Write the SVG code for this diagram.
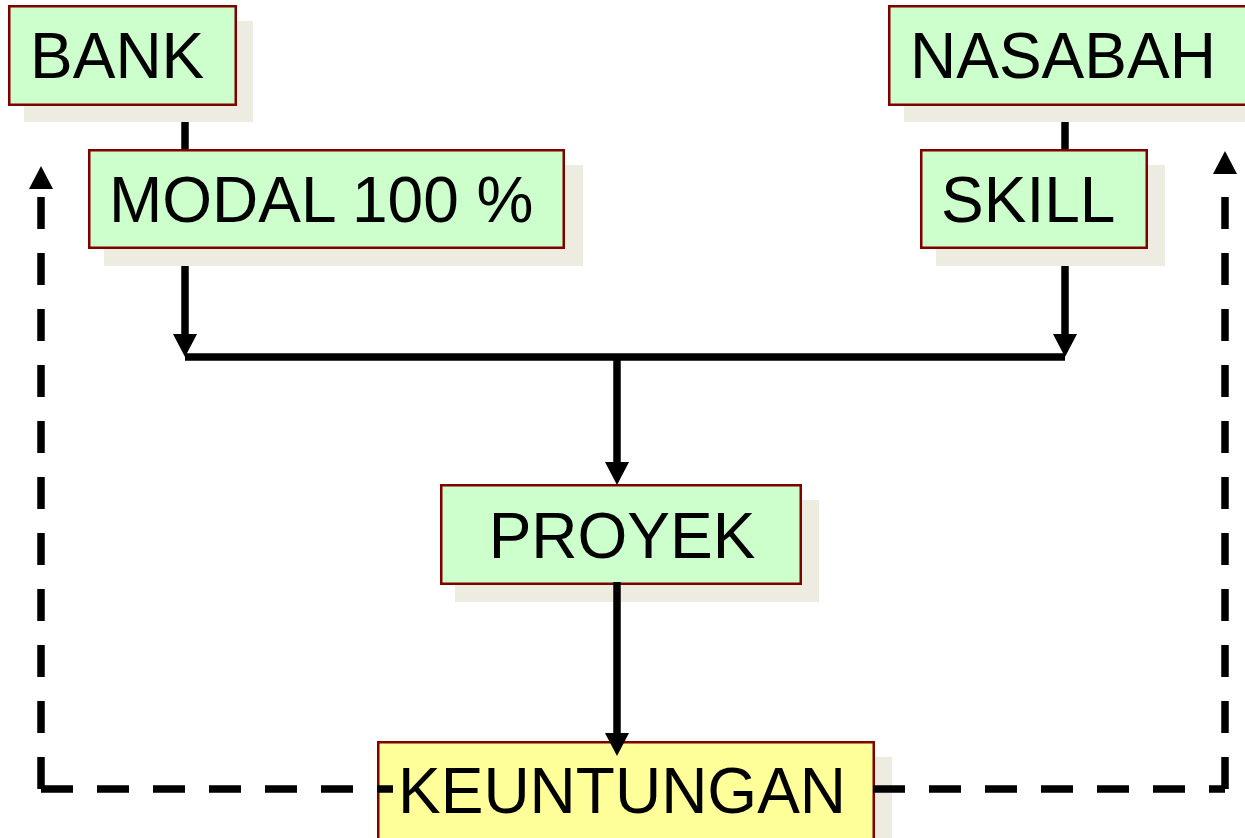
<svg xmlns="http://www.w3.org/2000/svg" width="1245" height="838" viewBox="0 0 1245 838">
<defs>
<style>
.shadow{fill:#EEECE1;stroke:none}
.box{fill:#CCFFCC;stroke:#800000;stroke-width:2.5}
.box.yellow{fill:#FFFF99}
.label{font-family:"Liberation Sans",Arial,sans-serif;font-size:64px;fill:#000}
.conn{stroke:#000;stroke-width:7.5;fill:none;stroke-linecap:butt}
.dash{stroke-dasharray:32 24}
</style>
<marker id="arrow" markerUnits="userSpaceOnUse" viewBox="0 0 23 24" markerWidth="23" markerHeight="24" refX="15" refY="12" orient="auto">
<path d="M0,0 L23,12 L0,24 Z" fill="#000"/>
</marker>
</defs>
<rect width="1245" height="838" fill="#fff"/>

<g id="node-bank">
<rect class="shadow" x="24" y="21" width="229" height="101"/>
<rect class="box" x="9.25" y="6.25" width="226.5" height="98.5"/>
<text class="label" x="30" y="78">BANK</text>
</g>

<g id="node-nasabah">
<rect class="shadow" x="904" y="21" width="400" height="101"/>
<rect class="box" x="889.25" y="6.25" width="400" height="98.5"/>
<text class="label" x="910" y="78">NASABAH</text>
</g>

<g id="node-modal">
<rect class="shadow" x="104" y="165" width="479" height="101"/>
<rect class="box" x="89.25" y="150.25" width="474.5" height="97.5"/>
<text class="label" x="109" y="222">MODAL 100 %</text>
</g>

<g id="node-skill">
<rect class="shadow" x="936" y="165" width="229" height="101"/>
<rect class="box" x="921.25" y="150.25" width="225.5" height="97.5"/>
<text class="label" x="941" y="222">SKILL</text>
</g>

<g id="node-proyek">
<rect class="shadow" x="455" y="500" width="364" height="102"/>
<rect class="box" x="441.25" y="485.25" width="359.5" height="98.5"/>
<text class="label" x="622" y="558" text-anchor="middle">PROYEK</text>
</g>

<g id="node-keuntungan">
<rect class="shadow" x="393" y="757" width="499" height="120"/>
<rect class="box yellow" x="378.25" y="742.25" width="495.5" height="130"/>
<text class="label" x="398" y="813">KEUNTUNGAN</text>
</g>

<g id="connectors">
<line class="conn" x1="185" y1="122" x2="185" y2="149"/>
<line class="conn" x1="1065" y1="122" x2="1065" y2="149"/>
<line class="conn" x1="185" y1="266" x2="185" y2="349" marker-end="url(#arrow)"/>
<line class="conn" x1="1065" y1="266" x2="1065" y2="349" marker-end="url(#arrow)"/>
<line class="conn" x1="185" y1="357" x2="1065" y2="357"/>
<line class="conn" x1="617" y1="357" x2="617" y2="477" marker-end="url(#arrow)"/>
<line class="conn" x1="617" y1="582" x2="617" y2="748" marker-end="url(#arrow)"/>
<line class="conn dash" x1="41" y1="789" x2="41" y2="174" marker-end="url(#arrow)"/>
<line class="conn dash" x1="41" y1="789" x2="393" y2="789"/>
<line class="conn dash" x1="1225" y1="789" x2="1225" y2="159" marker-end="url(#arrow)"/>
<line class="conn dash" x1="873" y1="789" x2="1225" y2="789"/>
</g>
</svg>
